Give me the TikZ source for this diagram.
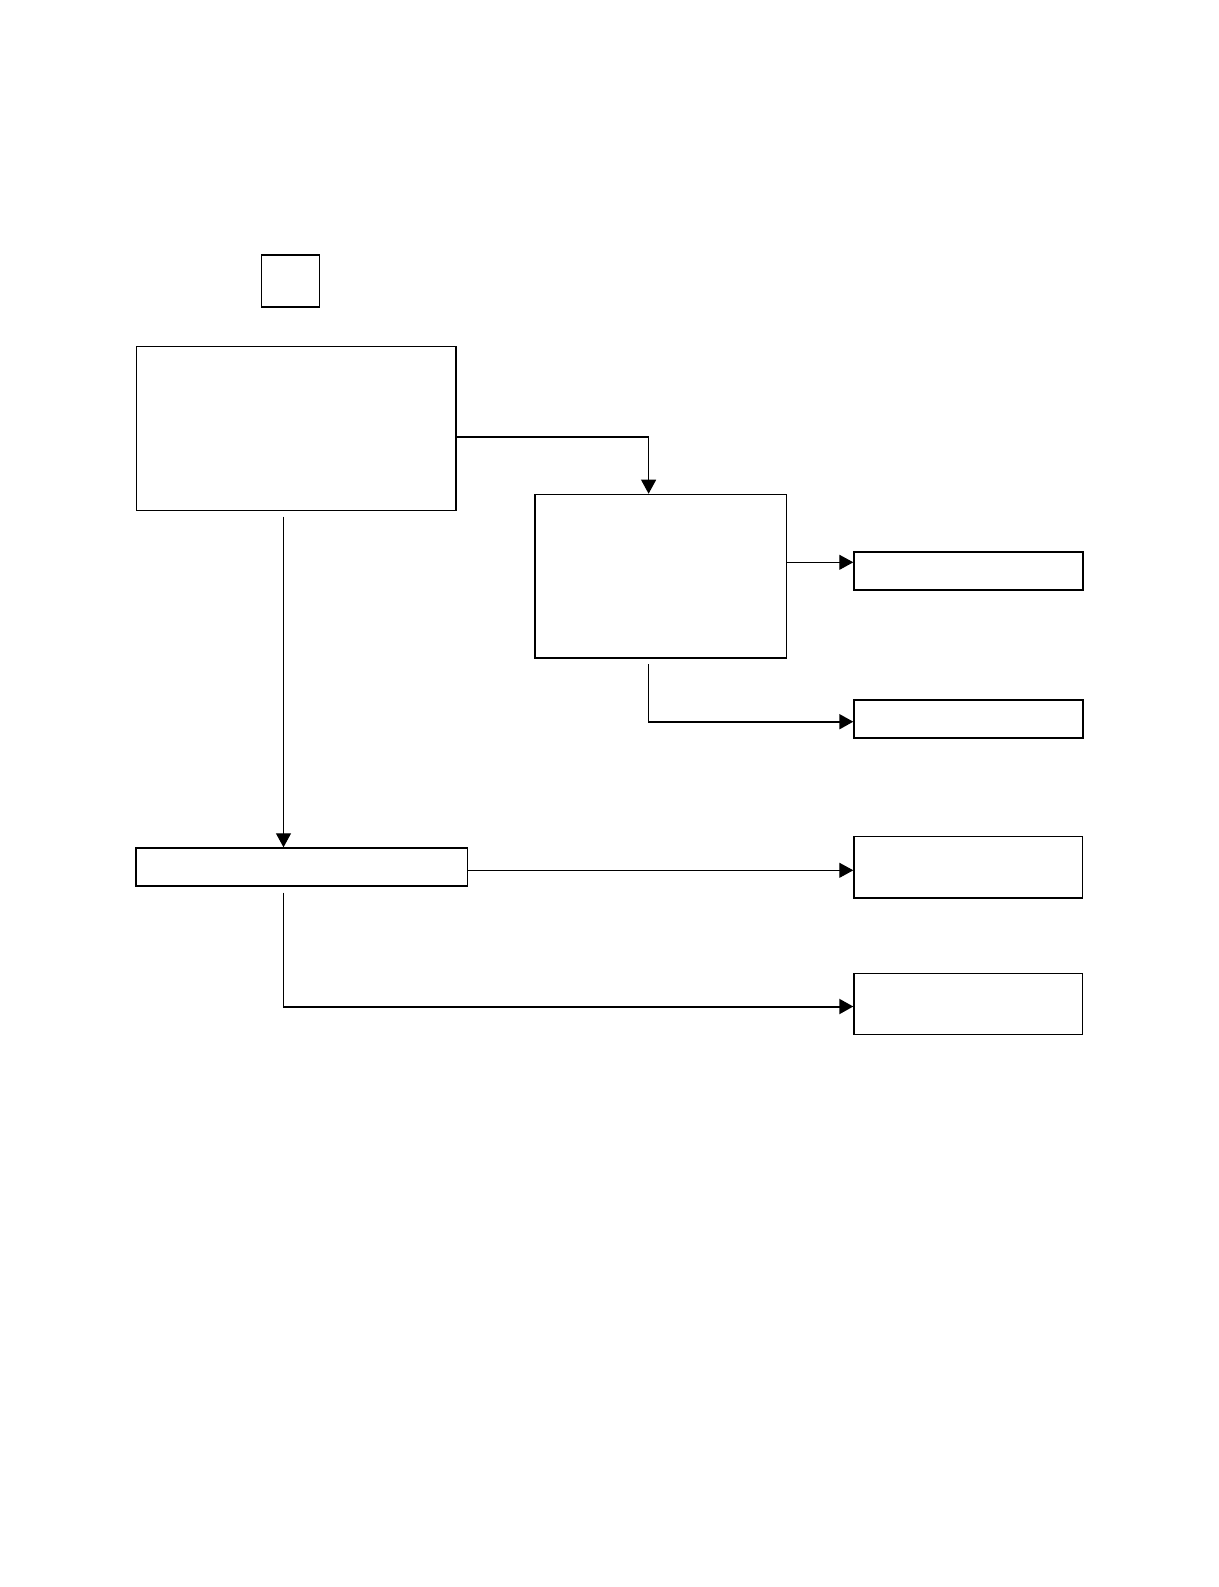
\documentclass[tikz,border=0pt]{standalone}
\usetikzlibrary{arrows.meta}
\begin{document}
\begin{tikzpicture}[x=0.5pt,y=-0.5pt,
  box/.style={draw=black, line width=0.75pt, fill=white, inner sep=0pt, anchor=north west},
  thinline/.style={line width=0.55pt},
  thickline/.style={line width=1pt},
  tip/.style={-{Triangle[length=7pt,width=7.5pt]}}]
\useasboundingbox[fill=white] (0,0) rectangle (1219,1587);
% boxes
\node[box, minimum width=29pt, minimum height=26pt] (S) at (260.7,254.3) {};
\node[box, minimum width=159.75pt, minimum height=82pt] (A) at (135.5,345.5) {};
\node[box, minimum width=125.6pt, minimum height=81.8pt] (B) at (534.3,493.7) {};
\node[box, minimum width=114.5pt, minimum height=19.15pt] (C) at (853.3,551) {};
\node[box, minimum width=114.5pt, minimum height=19pt] (D) at (853.3,699.3) {};
\node[box, minimum width=165.7pt, minimum height=19pt] (E) at (135.3,847.3) {};
\node[box, minimum width=114.2pt, minimum height=30.65pt] (F) at (853.3,835.7) {};
\node[box, minimum width=114.2pt, minimum height=30.5pt] (G) at (853.3,972.7) {};
% helper coordinates
\coordinate (ab) at (648.6,436.7);
\coordinate (a0) at (283.5,516.7);
\coordinate (bc) at (785.5,562.3);
\coordinate (b0) at (648.3,664.3);
\coordinate (bd) at (648.3,721.7);
\coordinate (ef) at (466.7,870.3);
\coordinate (e0) at (283.3,892.7);
\coordinate (eg) at (283.3,1006.5);
% connectors
\draw[thickline] (A.east |- ab) -- (ab);
\draw[thinline,tip] (ab) -- (B.north -| ab);
\draw[thinline,tip] (a0) -- (E.north -| a0);
\draw[thinline,tip] (B.east |- bc) -- (C.west |- bc);
\draw[thinline] (b0) -- (bd);
\draw[thickline,tip] (bd) -- (D.west |- bd);
\draw[thinline,tip] (E.east |- ef) -- (F.west |- ef);
\draw[thinline] (e0) -- (eg);
\draw[thickline,tip] (eg) -- (G.west |- eg);
\end{tikzpicture}
\end{document}
